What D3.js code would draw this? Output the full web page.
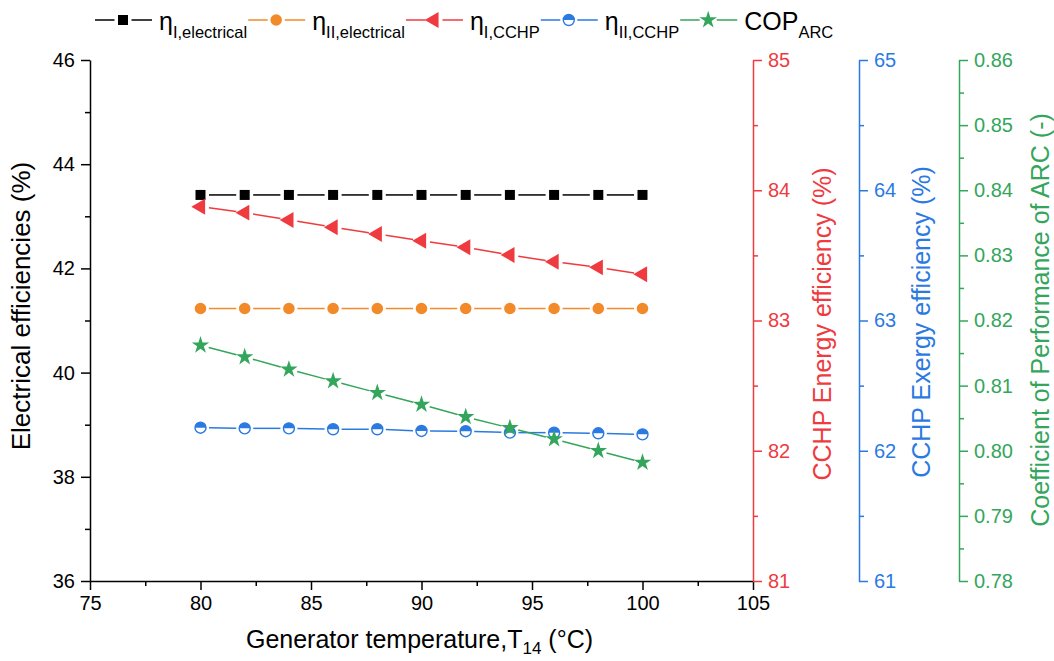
<!DOCTYPE html>
<html>
<head>
<meta charset="utf-8">
<script src="https://cdn.jsdelivr.net/npm/d3@7"></script>
<style>
  body { margin: 0; background: #fff; }
  text { font-family: "Liberation Sans", Arial, sans-serif; }
</style>
</head>
<body>
<script>
// generator temperature T14 (°C)
var temps = [80, 82, 84, 86, 88, 90, 92, 94, 96, 98, 100];

// left axis (%)
var etaIElec  = [43.41, 43.41, 43.41, 43.41, 43.41, 43.41, 43.41, 43.41, 43.41, 43.41, 43.41];
var etaIIElec = [41.23, 41.23, 41.23, 41.23, 41.23, 41.23, 41.23, 41.23, 41.23, 41.23, 41.23];
// CCHP energy efficiency (%)
var etaICCHP  = [83.874, 83.828, 83.772, 83.716, 83.664, 83.613, 83.562, 83.503, 83.451, 83.408, 83.355];
// CCHP exergy efficiency (%)
var etaIICCHP = [62.177, 62.172, 62.172, 62.165, 62.165, 62.152, 62.150, 62.139, 62.139, 62.134, 62.126];
// COP of ARC (-)
var copARC    = [0.8162, 0.8144, 0.8125, 0.8107, 0.8089, 0.8071, 0.8052, 0.8035, 0.8018, 0.8000, 0.7982];

var xTicks    = [75, 80, 85, 90, 95, 100, 105];
var elecTicks = [36, 38, 40, 42, 44, 46];
var enTicks   = [81, 82, 83, 84, 85];
var exTicks   = [61, 62, 63, 64, 65];
var copTicks  = [0.78, 0.79, 0.80, 0.81, 0.82, 0.83, 0.84, 0.85, 0.86];

var legendMain = ["η", "η", "η", "η", "COP"];
var legendSub  = ["I,electrical", "II,electrical", "I,CCHP", "II,CCHP", "ARC"];

var width = 1054, height = 661;
var plotLeft = 90, plotRight = 753, plotTop = 60, plotBottom = 581;

var black = "#000000", orange = "#f28a2a", red = "#ef3b3f", blue = "#2a7ae2", green = "#34a65c";

var svg = d3.select("body").append("svg")
  .attr("width", width)
  .attr("height", height);

var x = d3.scaleLinear().domain([75, 105]).range([plotLeft, plotRight]);
var yElec = d3.scaleLinear().domain([36, 46]).range([plotBottom, plotTop]);
var yEn   = d3.scaleLinear().domain([81, 85]).range([plotBottom, plotTop]);
var yEx   = d3.scaleLinear().domain([61, 65]).range([plotBottom, plotTop]);
var yCop  = d3.scaleLinear().domain([0.78, 0.86]).range([plotBottom, plotTop]);

function midpoints(vals) {
  var out = [];
  for (var i = 0; i < vals.length - 1; i++) out.push((vals[i] + vals[i + 1]) / 2);
  return out;
}

// minor ticks first, then the major axis on top
function drawAxis(axisFn, scale, major, fmt, transform, color) {
  var gMinor = svg.append("g").attr("transform", transform)
    .call(axisFn(scale).tickValues(midpoints(major)).tickSize(5).tickSizeOuter(0).tickFormat(""));
  gMinor.select(".domain").remove();
  gMinor.selectAll("line").attr("stroke", color).attr("stroke-width", 1.5);

  var g = svg.append("g").attr("transform", transform)
    .call(axisFn(scale).tickValues(major).tickSize(9).tickSizeOuter(0).tickPadding(6).tickFormat(fmt));
  g.select(".domain").attr("stroke", color).attr("stroke-width", 1.5);
  g.selectAll("line").attr("stroke", color).attr("stroke-width", 1.5);
  g.selectAll("text").attr("fill", color).style("font-size", "20px");
  return g;
}

drawAxis(d3.axisBottom, x, xTicks, d3.format("d"), "translate(0," + plotBottom + ")", black);
drawAxis(d3.axisLeft, yElec, elecTicks, d3.format("d"), "translate(" + plotLeft + ",0)", black);
drawAxis(d3.axisRight, yEn, enTicks, d3.format("d"), "translate(" + plotRight + ",0)", red);
drawAxis(d3.axisRight, yEx, exTicks, d3.format("d"), "translate(859,0)", blue);
drawAxis(d3.axisRight, yCop, copTicks, d3.format(".2f"), "translate(959,0)", green);

// axis titles
function vTitle(cx, cy, label, color, size) {
  svg.append("text")
    .attr("transform", "translate(" + cx + "," + cy + ") rotate(-90)")
    .attr("text-anchor", "middle")
    .attr("dy", "0.35em")
    .attr("fill", color)
    .style("font-size", size + "px")
    .text(label);
}
vTitle(21, 306, "Electrical efficiencies (%)", black, 26);
vTitle(822, 324, "CCHP Energy efficiency (%)", red, 25);
vTitle(921, 322, "CCHP Exergy efficiency (%)", blue, 25);
vTitle(1040, 320, "Coefficient of Performance of ARC (-)", green, 25);

var xt = svg.append("text")
  .attr("x", (plotLeft + plotRight) / 2 - 2)
  .attr("y", 648)
  .attr("text-anchor", "middle")
  .style("font-size", "25px");
xt.append("tspan").text("Generator temperature,T");
xt.append("tspan").attr("dy", 6).style("font-size", "17px").text("14");
xt.append("tspan").attr("dy", -6).text(" (°C)");

// markers
var halfTop = d3.arc().innerRadius(0).outerRadius(5.5).startAngle(-Math.PI / 2).endAngle(Math.PI / 2);

function marker(g, type, color) {
  if (type === "square") {
    g.append("path").attr("d", d3.symbol(d3.symbolSquare, 100)()).attr("fill", color);
  } else if (type === "circle") {
    g.append("path").attr("d", d3.symbol(d3.symbolCircle, 105)()).attr("fill", color);
  } else if (type === "triangle") {
    g.append("path").attr("d", d3.symbol(d3.symbolTriangle, 110)())
      .attr("transform", "rotate(-90)").attr("fill", color);
  } else if (type === "half") {
    g.append("circle").attr("r", 5.5).attr("fill", "#fff").attr("stroke", color).attr("stroke-width", 1.4);
    g.append("path").attr("d", halfTop()).attr("fill", color);
  } else if (type === "star") {
    g.append("path").attr("d", d3.symbol(d3.symbolStar, 95)()).attr("fill", color);
  }
}

var series = [
  { values: etaIElec,  scale: yElec, color: black,  marker: "square" },
  { values: etaIIElec, scale: yElec, color: orange, marker: "circle" },
  { values: etaICCHP,  scale: yEn,   color: red,    marker: "triangle" },
  { values: etaIICCHP, scale: yEx,   color: blue,   marker: "half" },
  { values: copARC,    scale: yCop,  color: green,  marker: "star" }
];

var gap = 8.5;
var line = d3.line();

series.forEach(function(s) {
  var pts = temps.map(function(t, i) { return [x(t), s.scale(s.values[i])]; });
  var g = svg.append("g");
  // segments stop short of the markers
  for (var i = 0; i < pts.length - 1; i++) {
    var a = pts[i], b = pts[i + 1];
    var dx = b[0] - a[0], dy = b[1] - a[1];
    var len = Math.sqrt(dx * dx + dy * dy);
    var ux = dx / len, uy = dy / len;
    g.append("path")
      .attr("d", line([[a[0] + ux * gap, a[1] + uy * gap], [b[0] - ux * gap, b[1] - uy * gap]]))
      .attr("stroke", s.color)
      .attr("stroke-width", 1.5)
      .attr("fill", "none");
  }
  pts.forEach(function(p) {
    marker(g.append("g").attr("transform", "translate(" + p[0] + "," + p[1] + ")"), s.marker, s.color);
  });
});

// legend
var lx = 95, ly = 20;
series.forEach(function(s, i) {
  var g = svg.append("g");
  var mx = lx + 28;
  g.append("line").attr("x1", lx).attr("x2", mx - gap).attr("y1", ly).attr("y2", ly)
    .attr("stroke", s.color).attr("stroke-width", 1.5);
  g.append("line").attr("x1", mx + gap).attr("x2", lx + 57).attr("y1", ly).attr("y2", ly)
    .attr("stroke", s.color).attr("stroke-width", 1.5);
  marker(g.append("g").attr("transform", "translate(" + mx + "," + ly + ")"), s.marker, s.color);

  var t = g.append("text")
    .attr("x", lx + 64)
    .attr("y", 30)
    .style("font-size", "25px");
  t.append("tspan").text(legendMain[i]);
  t.append("tspan").attr("dy", 8).style("font-size", "16.5px").text(legendSub[i]);
  lx = lx + 64 + t.node().getComputedTextLength() + 1;
});
</script>
</body>
</html>
